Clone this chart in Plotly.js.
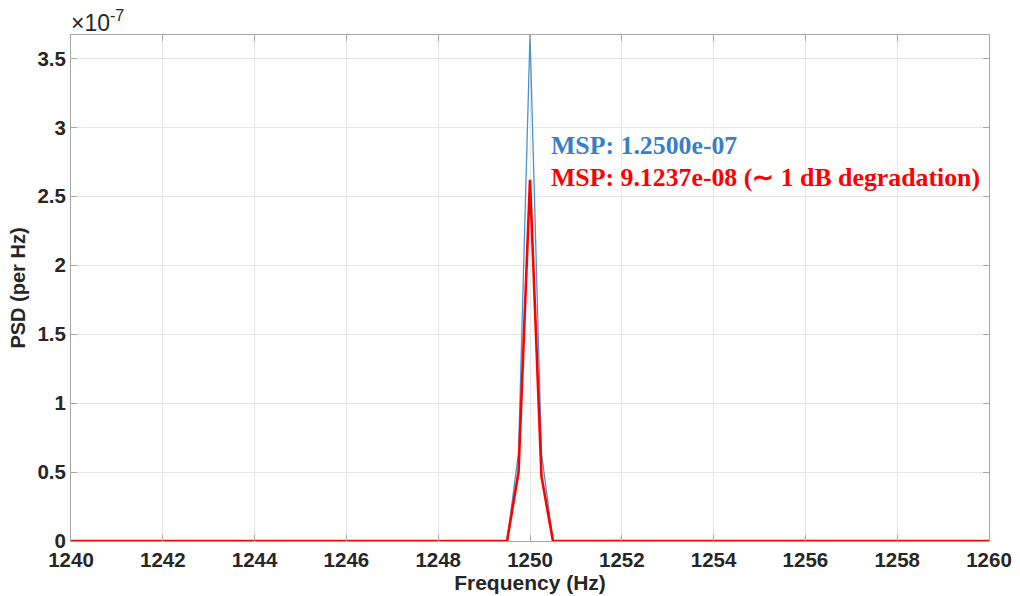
<!DOCTYPE html>
<html>
<head>
<meta charset="utf-8">
<script src="https://cdn.plot.ly/plotly-3.0.1.min.js"></script>
<style>html,body{margin:0;padding:0;background:#fff;}#chart{width:1020px;height:596px;}</style>
</head>
<body>
<div id="chart"></div>
<script>
// Frequency points (Hz) where the PSD changes
const freqHz = [1240, 1249.5, 1249.75, 1250, 1250.25, 1250.5, 1260];
// PSD values in units of 1e-7 per Hz
const psdIdeal = [0, 0, 0.64, 3.67, 0.64, 0, 0];
const psdDegraded = [0, 0, 0.50, 2.62, 0.47, 0, 0];
const labelIdeal = 'MSP: 1.2500e-07';
const labelDegraded = 'MSP: 9.1237e-08 (\u223C 1 dB degradation)';
const xTicks = [1240, 1242, 1244, 1246, 1248, 1250, 1252, 1254, 1256, 1258, 1260];
const yTicks = [0, 0.5, 1, 1.5, 2, 2.5, 3, 3.5];

const blueLine = '#4a93d2';
const blueText = '#3a7fc6';
const red = '#ff0000';
const tickFont = {family: 'Liberation Sans, Arial, sans-serif', size: 20.5, color: '#262626', weight: 'bold'};

const traces = [
  {x: freqHz, y: psdIdeal, type: 'scatter', mode: 'lines', line: {color: blueLine, width: 1.3}, hoverinfo: 'skip'},
  {x: freqHz, y: psdDegraded, type: 'scatter', mode: 'lines', line: {color: red, width: 2.6}, hoverinfo: 'skip'}
];

const axisCommon = {
  showgrid: true, gridcolor: '#e6e6e6', gridwidth: 1,
  showline: true, linecolor: '#a8a8a8', linewidth: 1, mirror: 'ticks',
  ticks: 'inside', ticklen: 6, tickcolor: '#a8a8a8', tickwidth: 1,
  zeroline: false, tickfont: tickFont
};

const layout = {
  width: 1020, height: 596,
  margin: {l: 71, r: 31, t: 35, b: 55},
  paper_bgcolor: '#ffffff', plot_bgcolor: '#ffffff',
  showlegend: false,
  xaxis: Object.assign({}, axisCommon, {
    range: [1240, 1260], tickvals: xTicks, ticktext: xTicks.map(String),
    title: {text: '<b>Frequency (Hz)</b>', font: {family: 'Liberation Sans, Arial, sans-serif', size: 21, color: '#262626'}, standoff: 0}
  }),
  yaxis: Object.assign({}, axisCommon, {
    range: [0, 3.67], tickvals: yTicks, ticktext: yTicks.map(String),
    title: {text: '<b>PSD (per Hz)</b>', font: {family: 'Liberation Sans, Arial, sans-serif', size: 20, color: '#262626'}, standoff: 6}
  }),
  annotations: [
    {xref: 'paper', yref: 'paper', x: 0, y: 1, xanchor: 'left', yanchor: 'bottom', xshift: -2, yshift: -3,
     text: '\u00D710<sup>-7</sup>', showarrow: false,
     font: {family: 'Liberation Sans, Arial, sans-serif', size: 23, color: '#262626'}},
    {xref: 'x', yref: 'y', x: 1250.42, y: 2.87, xanchor: 'left', yanchor: 'middle', text: '<b>' + labelIdeal + '</b>', showarrow: false,
     font: {family: 'Liberation Serif, Times New Roman, serif', size: 25.8, color: blueText}},
    {xref: 'x', yref: 'y', x: 1250.42, y: 2.64, xanchor: 'left', yanchor: 'middle', text: '<b>' + labelDegraded + '</b>', showarrow: false,
     font: {family: 'Liberation Serif, Times New Roman, serif', size: 25.8, color: red}}
  ]
};

Plotly.newPlot('chart', traces, layout, {staticPlot: true, displayModeBar: false});
</script>
</body>
</html>
